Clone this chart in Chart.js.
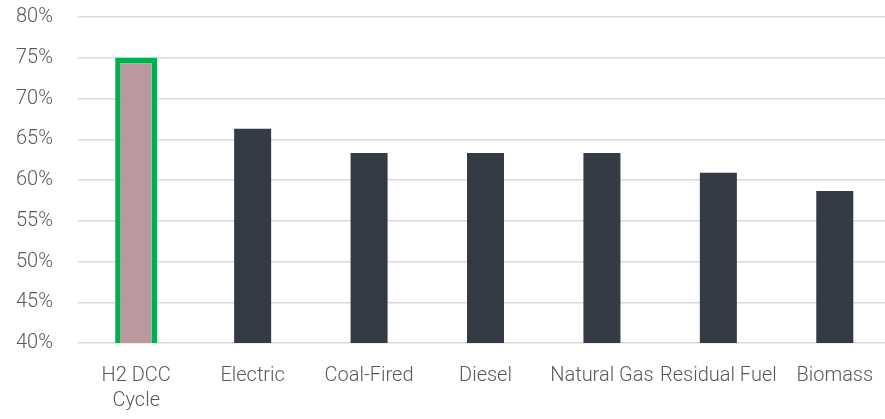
<!DOCTYPE html>
<html>
<head>
<meta charset="utf-8">
<script src="https://cdn.jsdelivr.net/npm/chart.js@4"></script>
<style>
html,body{margin:0;padding:0;background:#fff;overflow:hidden;}
#wrap{width:893px;height:419px;position:relative;}
</style>
</head>
<body>
<div id="wrap"><canvas id="c"></canvas></div>
<script>
const categories = [['H2 DCC','Cycle'], 'Electric', 'Coal-Fired', 'Diesel', 'Natural Gas', 'Residual Fuel', 'Biomass'];
const efficiency = [75, 66.3, 63.3, 63.3, 63.3, 60.9, 58.65];
const yTicks = [40, 45, 50, 55, 60, 65, 70, 75, 80];

const highlight = efficiency.map((v, i) => i === 0 ? v : null);
const others = efficiency.map((v, i) => i === 0 ? null : v);

Chart.defaults.font.family = 'Roboto, sans-serif';
Chart.defaults.font.size = 20;
Chart.defaults.font.weight = 300;
Chart.defaults.color = '#595959';

new Chart(document.getElementById('c'), {
  type: 'bar',
  data: {
    labels: categories,
    datasets: [
      {
        data: highlight,
        backgroundColor: '#b9999d',
        borderColor: '#00b050',
        borderWidth: 5.5,
        borderSkipped: false,
        barPercentage: 0.362,
        categoryPercentage: 1
      },
      {
        data: others,
        backgroundColor: '#343b45',
        borderWidth: 0,
        barPercentage: 0.318,
        categoryPercentage: 1
      }
    ]
  },
  options: {
    responsive: true,
    maintainAspectRatio: false,
    animation: false,
    layout: { padding: { left: 0, top: 17, right: 0, bottom: 0 } },
    plugins: { legend: { display: false }, tooltip: { enabled: false } },
    datasets: { bar: { grouped: false } },
    scales: {
      x: {
        grid: { display: false, drawTicks: false },
        border: { display: false },
        afterFit: (a) => { a.height = 76; a.paddingLeft = 0; a.paddingRight = 0; },
        ticks: { padding: 20, maxRotation: 0, autoSkip: false, font: { lineHeight: '25px' } }
      },
      y: {
        min: yTicks[0],
        max: yTicks[yTicks.length - 1],
        afterBuildTicks: (axis) => { axis.ticks = yTicks.map(v => ({ value: v })); },
        afterFit: (a) => { a.width = 78; a.paddingTop = 0; a.paddingBottom = 0; },
        grid: { color: '#d9d9d9', lineWidth: 1.5, drawTicks: false },
        border: { display: false },
        ticks: { padding: 25, callback: (v) => v + '%' }
      }
    }
  }
});
</script>
</body>
</html>
